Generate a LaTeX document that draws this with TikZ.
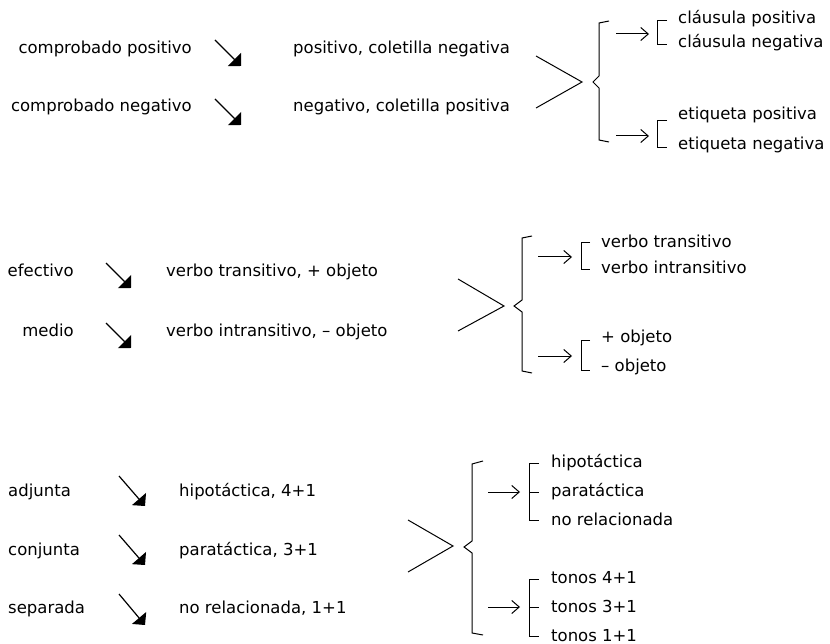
\documentclass[tikz,border=0pt]{standalone}
\usepackage{fontspec}
\setmainfont{DejaVu Sans}
\usetikzlibrary{arrows.meta}
\tikzset{
  txt/.style={inner sep=0pt, anchor=base west, font=\fontsize{16.5}{20}\selectfont},
  txtr/.style={txt, anchor=base east},
  diag/.style={line width=1.2pt, -{Triangle[angle=90:13pt]}},
  openarr/.style={line width=1pt, -{Straight Barb[length=7.5pt,width=13pt,line width=1pt]}},
  merge/.style={line width=1pt},
  brace/.style={line width=1pt},
  brk/.style={line width=1pt}
}
\begin{document}
\begin{tikzpicture}[x=1pt,y=-1pt]
\useasboundingbox (0,0) rectangle (830,644);
% ---------- Section 1
\node[txtr] (a1) at (192,54) {comprobado positivo};
\node[txtr] (a2) at (192,112) {comprobado negativo};
\coordinate (a1s) at (215,40); \coordinate (a1e) at (241,66);
\coordinate (a2s) at (215,99); \coordinate (a2e) at (241,125);
\draw[diag] (a1s) -- (a1e);
\draw[diag] (a2s) -- (a2e);
\node[txt] (b1) at (293,54) {positivo, coletilla negativa};
\node[txt] (b2) at (293,112) {negativo, coletilla positiva};
\coordinate (m1t) at (536,56); \coordinate (m1v) at (582,82); \coordinate (m1b) at (536,108);
\draw[merge] (m1t) -- (m1v) -- (m1b);
\draw[brace] (609,21) -- (599,23) -- (599,76) -- (593,82) -- (599,88) -- (599,140) -- (609,142);
\coordinate (r1a) at (616,34); \coordinate (r1b) at (649,34);
\coordinate (r2a) at (616,136); \coordinate (r2b) at (649,136);
\draw[openarr] (r1a) -- (r1b);
\draw[openarr] (r2a) -- (r2b);
\node[txt] (c1) at (678,24) {cláusula positiva};
\node[txt] (c2) at (678,48) {cláusula negativa};
\node[txt] (c3) at (678,120) {etiqueta positiva};
\node[txt] (c4) at (678,150) {etiqueta negativa};
\draw[brk] (667,21) -- (657,21) -- (657,45) -- (667,45);
\draw[brk] (667,121) -- (657,121) -- (657,148) -- (667,148);
% ---------- Section 2
\node[txtr] (d1) at (74,277) {efectivo};
\node[txtr] (d2) at (74,337) {medio};
\coordinate (d1s) at (106,263); \coordinate (d1e) at (131,288);
\coordinate (d2s) at (106,323); \coordinate (d2e) at (131,348);
\draw[diag] (d1s) -- (d1e);
\draw[diag] (d2s) -- (d2e);
\node[txt] (e1) at (166,277) {verbo transitivo, + objeto};
\node[txt] (e2) at (166,337) {verbo intransitivo, – objeto};
\coordinate (m2t) at (458,279); \coordinate (m2v) at (504,306); \coordinate (m2b) at (458,331);
\draw[merge] (m2t) -- (m2v) -- (m2b);
\draw[brace] (532,236) -- (522,238) -- (522,300) -- (514,306) -- (522,312) -- (522,371) -- (532,373);
\coordinate (s1a) at (538,257); \coordinate (s1b) at (572,257);
\coordinate (s2a) at (538,356); \coordinate (s2b) at (572,356);
\draw[openarr] (s1a) -- (s1b);
\draw[openarr] (s2a) -- (s2b);
\node[txt] (f1) at (601,248) {verbo transitivo};
\node[txt] (f2) at (601,274) {verbo intransitivo};
\node[txt] (f3) at (601,342) {+ objeto};
\node[txt] (f4) at (601,371) {– objeto};
\draw[brk] (590,243) -- (581,243) -- (581,270) -- (590,270);
\draw[brk] (590,340) -- (581,340) -- (581,370) -- (590,370);
% ---------- Section 3
\node[txt] (g1) at (8,496) {adjunta};
\node[txt] (g2) at (8,555) {conjunta};
\node[txt] (g3) at (8,613) {separada};
\coordinate (g1s) at (119,476); \coordinate (g1e) at (145,506);
\coordinate (g2s) at (119,535); \coordinate (g2e) at (145,565);
\coordinate (g3s) at (119,594); \coordinate (g3e) at (145,625);
\draw[diag] (g1s) -- (g1e);
\draw[diag] (g2s) -- (g2e);
\draw[diag] (g3s) -- (g3e);
\node[txt] (h1) at (179,496) {hipotáctica, 4+1};
\node[txt] (h2) at (179,555) {paratáctica, 3+1};
\node[txt] (h3) at (179,613) {no relacionada, 1+1};
\coordinate (m3t) at (408,520); \coordinate (m3v) at (453,546); \coordinate (m3b) at (408,572);
\draw[merge] (m3t) -- (m3v) -- (m3b);
\draw[brace] (483,461) -- (472,464) -- (472,541) -- (464,547) -- (472,553) -- (472,633) -- (483,635);
\coordinate (t1a) at (488,492); \coordinate (t1b) at (520,492);
\coordinate (t2a) at (488,607); \coordinate (t2b) at (520,607);
\draw[openarr] (t1a) -- (t1b);
\draw[openarr] (t2a) -- (t2b);
\node[txt] (k1) at (551,467) {hipotáctica};
\node[txt] (k2) at (551,496) {paratáctica};
\node[txt] (k3) at (551,525) {no relacionada};
\node[txt] (k4) at (551,583) {tonos 4+1};
\node[txt] (k5) at (551,612) {tonos 3+1};
\node[txt] (k6) at (551,641) {tonos 1+1};
\draw[brk] (539,463) -- (529,463) -- (529,520) -- (539,520);
\draw[brk] (529,492) -- (539,492);
\draw[brk] (539,579) -- (529,579) -- (529,636) -- (539,636);
\draw[brk] (529,607) -- (539,607);
\end{tikzpicture}
\end{document}
